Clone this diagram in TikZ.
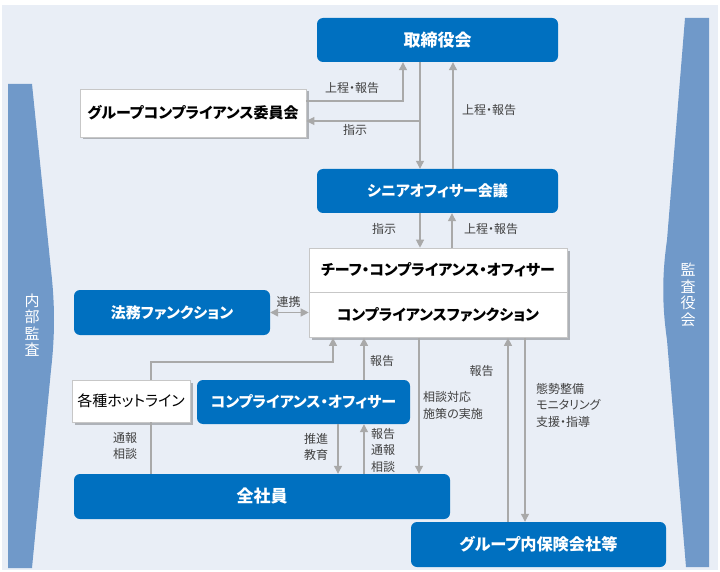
\documentclass[tikz,border=0pt]{standalone}
\usepackage{fontspec}
\newfontfamily\jp[RawFeature=+palt]{Noto Sans CJK JP}
\usepackage{tikz}
\usetikzlibrary{arrows.meta, shadows, positioning, calc}
\definecolor{bgblue}{HTML}{E9EEF6}
\definecolor{boxblue}{HTML}{0070C0}
\definecolor{barblue}{HTML}{7099C9}
\definecolor{arrgray}{HTML}{A9A9A9}
\definecolor{txtgray}{HTML}{404040}

\begin{document}
\begin{tikzpicture}[x=1pt, y=-1pt,
    bluebox/.style={fill=boxblue, rounded corners=6pt, text=white, inner sep=0pt,
      font=\jp\bfseries\fontsize{15}{17}\selectfont},
    bigtext/.style={font=\jp\bfseries\fontsize{17}{19}\selectfont},
    whitebox/.style={fill=white, draw=black!22, line width=.6pt, inner sep=0pt,
      font=\jp\bfseries\fontsize{15}{17}\selectfont,
      drop shadow={shadow xshift=2.5pt, shadow yshift=-2.5pt, fill=black, opacity=.25}},
    arr/.style={draw=arrgray, line width=1.2pt, -{Triangle[width=8pt,length=8pt]}},
    arrtwo/.style={draw=arrgray, line width=1.2pt, {Triangle[width=8pt,length=8pt]}-{Triangle[width=8pt,length=8pt]}},
    link/.style={draw=arrgray, line width=1.2pt},
    lbl/.style={text=txtgray, inner sep=0pt, font=\jp\fontsize{12}{16.5}\selectfont},
    bartext/.style={text=white, inner sep=0pt, align=center, font=\jp\fontsize{15}{16.5}\selectfont}]
      \useasboundingbox (0,0) rectangle (720,572);
      \fill[white] (0,0) rectangle (720,572);
      \fill[bgblue] (2,5) rectangle (718,570);
      % audit bars
      \fill[barblue] (8,84) -- (32,84) -- (51,270) .. controls (55,305) and (55,335) .. (51,370) -- (32,568) -- (8,568) -- cycle;
      \fill[barblue] (685,18) -- (709,18) -- (709,567) -- (686,567) -- (667,340) .. controls (662,305) and (662,275) .. (667,240) -- cycle;
      \node[bartext] (internal) at (32,325) {内\\部\\監\\査};
      \node[bartext] (auditors) at (688,295) {監\\査\\役\\会};

      \node[bluebox, bigtext, minimum width=241pt, minimum height=44pt] (board) at (437.5,40) {取締役会};
      \node[whitebox, minimum width=226pt, minimum height=48pt] (gcc) at (193,113) {グループコンプライアンス委員会};
      \node[bluebox, minimum width=241pt, minimum height=44pt] (senior) at (437.5,191) {シニアオフィサー会議};
      \node[whitebox, minimum width=258pt, minimum height=44pt] (cco) at (438,270) {チーフ・コンプライアンス・オフィサー};
      \node[whitebox, minimum width=258pt, minimum height=45pt, below=0pt of cco] (cf) {コンプライアンスファンクション};
      \node[bluebox, minimum width=196pt, minimum height=45pt] (legal) at (172,312.5) {法務ファンクション};
      \node[whitebox, font=\jp\fontsize{15}{17}\selectfont, minimum width=118pt, minimum height=42pt] (hotline) at (131,401) {各種ホットライン};
      \node[bluebox, minimum width=213pt, minimum height=44pt] (co) at (303.5,402) {コンプライアンス・オフィサー};
      \node[bluebox, bigtext, minimum width=376pt, minimum height=45pt] (staff) at (262,496.5) {全社員};
      \node[bluebox, font=\jp\bfseries\fontsize{16.2}{18}\selectfont, minimum width=255pt, minimum height=45pt] (group) at (538.5,544.5) {グループ内保険会社等};

      \coordinate (gccup) at (403,101);
      \coordinate (gccdn) at (420,121);
      \draw[arr] (gcc.east |- gccup) -| (board.south -| gccup);
      \draw[arr] (board.south -| gccdn) -- (senior.north -| gccdn);
      \draw[arr] (gccdn) -- (gcc.east |- gccdn);
      \coordinate (srup) at (453,0);
      \draw[arr] (senior.north -| srup) -- (board.south -| srup);
      \coordinate (ccodn) at (420,0);
      \coordinate (ccoup) at (452,0);
      \draw[arr] (senior.south -| ccodn) -- (cco.north -| ccodn);
      \draw[arr] (cco.north -| ccoup) -- (senior.south -| ccoup);
      \draw[arrtwo] (legal.east) -- (cf.west |- legal.east);
      \coordinate (hlb) at (151,362);
      \coordinate (hlc) at (333,362);
      \draw[link] (staff.north -| hlb) -- (hotline.south -| hlb);
      \draw[arr] (hotline.north -| hlb) -- (hlb) -- (hlc) -- (cf.south -| hlc);
      \coordinate (coup) at (364,0);
      \coordinate (codn) at (338,0);
      \draw[arr] (co.north -| coup) -- (cf.south -| coup);
      \draw[arr] (co.south -| codn) -- (staff.north -| codn);
      \draw[arr] (staff.north -| coup) -- (co.south -| coup);
      \coordinate (cfdn) at (419,0);
      \draw[arr] (cf.south -| cfdn) -- (staff.north -| cfdn);
      \coordinate (grup) at (508,0);
      \coordinate (grdn) at (525,0);
      \draw[arr] (group.north -| grup) -- (cf.south -| grup);
      \draw[arr] (cf.south -| grdn) -- (group.north -| grdn);

      \node[lbl] (lgccup) at (352,88) {上程・報告};
      \node[lbl] (lgccdn) at (355,130) {指示};
      \node[lbl] (lsrup) at (489,110) {上程・報告};
      \node[lbl] (lccodn) at (384,229) {指示};
      \node[lbl] (lccoup) at (491,229) {上程・報告};
      \node[lbl] (llegal) at (288.5,302) {連携};
      \node[lbl, align=center] (lhot) at (125,446) {通報\\相談};
      \node[lbl] (lcoup) at (382,361) {報告};
      \node[lbl, align=center] (lcodn) at (316,447) {推進\\教育};
      \node[lbl, align=left, anchor=west] (lstaff) at (371,450) {報告\\通報\\相談};
      \node[lbl, align=left, anchor=west] (lcfdn) at (423,405.5) {相談対応\\施策の実施};
      \node[lbl] (lgrup) at (481.5,371) {報告};
      \node[lbl, align=left, anchor=west] (lgrdn) at (536,405) {態勢整備\\モニタリング\\支援・指導};
    \end{tikzpicture}
\end{document}
